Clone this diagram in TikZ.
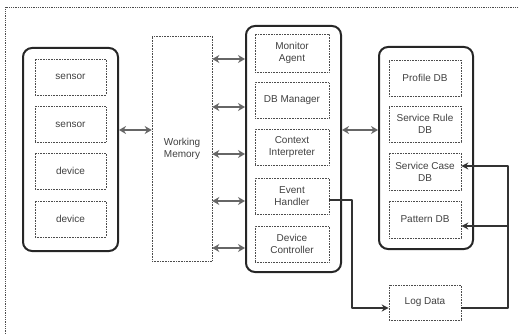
\documentclass[tikz,border=0pt]{standalone}
\usepackage{fontspec}
\setmainfont{Liberation Sans}
\usetikzlibrary{arrows.meta,calc}
\begin{document}
\begin{tikzpicture}[x=1pt,y=-1pt,
  group/.style={draw=black!85,line width=2pt,rounded corners=9pt},
  item/.style={draw=black!70,densely dotted,line width=0.6pt,rectangle,
    minimum width=72pt,minimum height=36pt,inner sep=1pt,align=center,
    font=\fontsize{10}{12}\selectfont,text=black!75},
  dblarrow/.style={draw=black!60,line width=2pt,
    {Stealth[length=7pt,width=8pt]}-{Stealth[length=7pt,width=8pt]}},
  flow/.style={draw=black!80,line width=1.8pt,line join=round},
  flowtip/.style={flow,-{Stealth[length=7pt,width=7pt]}}
]
\useasboundingbox (0,0) rectangle (519,334);
% surrounding frame (only the top and left sides are in view)
\draw[black!70,densely dotted,line width=0.8pt] (5,334) -- (5,7) -- (519,7);

% sensors and devices
\node[group,minimum width=95pt,minimum height=203pt] (left) at (70.5,149.5) {};
\node[item,minimum width=71pt] (s1) at (70.5,77) {sensor};
\node[item,minimum width=71pt] (s2) at (70.5,124.5) {sensor};
\node[item,minimum width=71pt] (d1) at (70.5,171) {device};
\node[item,minimum width=71pt] (d2) at (70.5,219) {device};

% working memory
\node[item,minimum width=60pt,minimum height=225pt] (wm) at (182,148.5) {Working\\Memory};

% agent modules
\node[group,minimum width=95pt,minimum height=246pt] (mid) at (293.5,149) {};
\node[item,minimum width=74pt,minimum height=38pt] (ma) at (292,53) {Monitor\\Agent};
\node[item,minimum width=74pt] (dbm) at (292,100.5) {DB Manager};
\node[item,minimum width=74pt] (ci) at (292,147) {Context\\Interpreter};
\node[item,minimum width=74pt] (eh) at (292,196) {Event\\Handler};
\node[item,minimum width=74pt] (dc) at (292,244) {Device\\Controller};

% databases
\node[group,minimum width=94pt,minimum height=202pt] (right) at (426,148) {};
\node[item] (pdb) at (425,78) {Profile DB};
\node[item] (srdb) at (425,124) {Service Rule\\DB};
\node[item,minimum height=37pt] (scdb) at (425,171.5) {Service Case\\DB};
\node[item,minimum height=37pt] (patdb) at (425,219.5) {Pattern DB};

% log
\node[item,minimum height=35pt] (log) at (425,302.5) {Log Data};

% exchanges
\draw[dblarrow] ($(left.east)+(0,-19.5)$) -- ($(wm.west)+(0,-18.5)$);
\draw[dblarrow] ($(wm.east |- ma)+(0,6)$) -- ($(mid.west |- ma)+(0,6)$);
\draw[dblarrow] ($(wm.east |- dbm)+(0,6.5)$) -- ($(mid.west |- dbm)+(0,6.5)$);
\draw[dblarrow] ($(wm.east |- ci)+(0,7)$) -- ($(mid.west |- ci)+(0,7)$);
\draw[dblarrow] ($(wm.east |- eh)+(0,5)$) -- ($(mid.west |- eh)+(0,5)$);
\draw[dblarrow] ($(wm.east |- dc)+(0,4)$) -- ($(mid.west |- dc)+(0,4)$);
\draw[dblarrow] ($(mid.east)+(0,-19)$) -- ($(right.west)+(0,-18)$);

% event logging and feedback
\coordinate (ehout) at ($(eh.east)+(0,4)$);
\coordinate (login) at ($(log.west)+(0,5.5)$);
\coordinate (logout) at ($(log.east)+(0,5.5)$);
\coordinate (loopx) at (508,0);
\draw[flowtip] (ehout) -- (352,0 |- ehout) -- (352,0 |- login) -- (login);
\draw[flowtip] (logout) -- (loopx |- logout) -- (loopx |- {$(scdb.east)+(0,-5.5)$})
  -- ($(scdb.east)+(0,-5.5)$);
\draw[flowtip] (loopx |- {$(patdb.east)+(0,6.5)$}) -- ($(patdb.east)+(0,6.5)$);
\end{tikzpicture}
\end{document}
